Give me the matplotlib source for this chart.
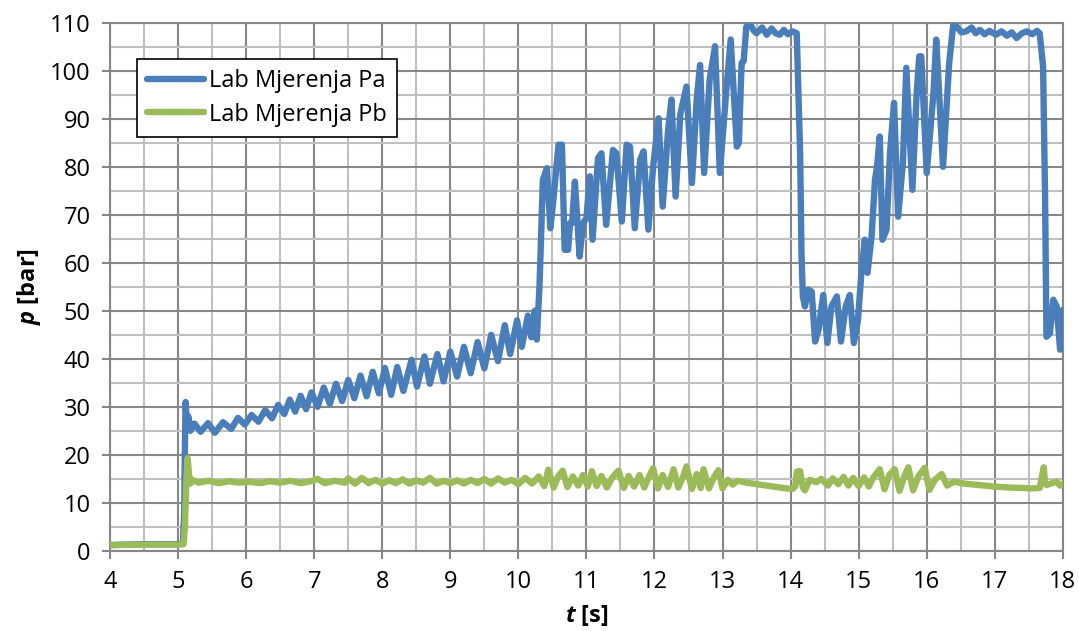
import matplotlib
matplotlib.use("Agg")
import matplotlib.pyplot as plt
from matplotlib.ticker import MultipleLocator

# Pa trace (time [s], pressure [bar])
pa_t = [4.00, 4.50, 5.00, 5.07, 5.09, 5.10, 5.11, 5.13, 5.15, 5.18,
        5.24, 5.33, 5.44, 5.54, 5.66, 5.78, 5.88, 5.98, 6.08, 6.18,
        6.28, 6.38, 6.47, 6.56, 6.64, 6.72, 6.80, 6.88, 6.96, 7.05,
        7.14, 7.23, 7.32, 7.41, 7.50, 7.59, 7.68, 7.77, 7.86, 7.95,
        8.04, 8.13, 8.22, 8.31, 8.43, 8.51, 8.62, 8.70, 8.81, 8.90,
        9.00, 9.10, 9.20, 9.30, 9.40, 9.50, 9.60, 9.70, 9.80, 9.88,
        9.98, 10.05, 10.14, 10.19, 10.24, 10.27, 10.31, 10.36, 10.42, 10.47,
        10.51, 10.59, 10.64, 10.68, 10.73, 10.76, 10.79, 10.83, 10.90, 10.95,
        11.00, 11.05, 11.09, 11.17, 11.22, 11.29, 11.39, 11.44, 11.52, 11.59,
        11.64, 11.71, 11.79, 11.84, 11.91, 11.98, 12.06, 12.12, 12.20, 12.25,
        12.31, 12.38, 12.47, 12.55, 12.62, 12.67, 12.73, 12.81, 12.89, 12.96,
        13.06, 13.12, 13.21, 13.24, 13.28, 13.31, 13.35, 13.40, 13.45, 13.50,
        13.58, 13.65, 13.72, 13.78, 13.84, 13.90, 13.96, 14.03, 14.09, 14.14,
        14.16, 14.18, 14.21, 14.26, 14.31, 14.36, 14.41, 14.48, 14.54, 14.60,
        14.68, 14.74, 14.81, 14.87, 14.93, 14.99, 15.04, 15.09, 15.13, 15.19,
        15.24, 15.27, 15.31, 15.35, 15.41, 15.46, 15.52, 15.58, 15.65, 15.70,
        15.79, 15.85, 15.89, 15.92, 16.00, 16.10, 16.14, 16.24, 16.33, 16.39,
        16.44, 16.51, 16.58, 16.66, 16.72, 16.78, 16.85, 16.92, 17.02, 17.10,
        17.18, 17.25, 17.32, 17.40, 17.47, 17.55, 17.62, 17.66, 17.71, 17.74,
        17.76, 17.81, 17.86, 17.91, 17.96, 18.00]
pa_p = [1.2, 1.4, 1.4, 1.5, 8.0, 22.0, 31.0, 26.0, 28.0, 25.0,
        26.5, 24.8, 26.6, 24.6, 26.8, 25.4, 27.7, 26.3, 28.3, 26.9,
        29.3, 27.6, 30.4, 28.5, 31.5, 29.0, 32.3, 29.5, 33.0, 30.0,
        34.0, 30.6, 34.8, 31.2, 35.6, 31.8, 36.5, 32.2, 37.3, 32.8,
        38.1, 32.5, 38.3, 33.3, 39.8, 34.2, 40.5, 34.8, 41.0, 35.3,
        41.5, 36.3, 42.5, 37.0, 43.5, 38.0, 45.0, 39.5, 47.0, 41.0,
        48.0, 42.5, 49.0, 44.5, 50.0, 44.0, 55.0, 77.3, 79.7, 67.2,
        72.5, 84.6, 84.6, 62.7, 62.7, 68.3, 68.3, 76.9, 61.3, 68.3,
        69.3, 78.0, 64.8, 81.8, 82.8, 67.9, 83.5, 82.8, 68.6, 84.6,
        84.2, 67.2, 81.5, 83.2, 66.9, 80.0, 90.1, 71.7, 87.7, 94.0,
        73.8, 91.0, 96.7, 76.6, 94.0, 101.2, 78.7, 98.1, 105.1, 78.7,
        96.7, 106.5, 84.2, 85.0, 101.6, 102.0, 109.2, 110.0, 108.5, 107.8,
        109.0, 107.5, 108.8, 107.8, 107.5, 108.5, 107.6, 108.2, 107.8, 82.9,
        62.0, 53.0, 50.9, 54.4, 54.0, 43.6, 46.0, 53.3, 43.3, 50.9,
        53.0, 43.6, 50.9, 53.3, 43.3, 48.1, 57.9, 64.8, 57.9, 65.5,
        77.3, 80.0, 86.3, 64.8, 66.9, 82.8, 93.3, 69.6, 80.8, 100.6,
        75.2, 94.6, 103.0, 103.0, 78.7, 95.4, 106.5, 80.0, 101.6, 109.6,
        109.2, 108.0, 108.2, 109.0, 107.8, 108.5, 107.6, 108.3, 107.5, 108.2,
        107.3, 108.0, 106.8, 107.8, 108.2, 107.6, 108.3, 107.8, 100.9, 73.0,
        44.6, 45.3, 52.3, 50.9, 41.9, 50.2]

# Pb trace
pb_t = [4.00, 4.50, 5.00, 5.08, 5.10, 5.12, 5.14, 5.16, 5.18, 5.20,
        5.30, 5.45, 5.60, 5.75, 5.90, 6.05, 6.20, 6.35, 6.50, 6.65,
        6.80, 6.95, 7.05, 7.15, 7.30, 7.45, 7.50, 7.60, 7.70, 7.80,
        7.90, 8.00, 8.10, 8.20, 8.30, 8.40, 8.50, 8.60, 8.70, 8.80,
        8.90, 9.00, 9.10, 9.20, 9.30, 9.40, 9.50, 9.60, 9.70, 9.80,
        9.90, 10.00, 10.10, 10.20, 10.30, 10.38, 10.44, 10.52, 10.58, 10.65,
        10.72, 10.80, 10.88, 10.95, 11.02, 11.08, 11.15, 11.22, 11.30, 11.38,
        11.47, 11.55, 11.62, 11.70, 11.78, 11.85, 11.92, 11.98, 12.05, 12.12,
        12.20, 12.28, 12.35, 12.42, 12.47, 12.55, 12.62, 12.68, 12.72, 12.80,
        12.88, 12.94, 13.00, 13.08, 13.15, 13.22, 13.35, 13.50, 13.65, 13.80,
        13.94, 14.03, 14.07, 14.09, 14.14, 14.18, 14.21, 14.28, 14.38, 14.45,
        14.55, 14.62, 14.70, 14.78, 14.85, 14.92, 15.00, 15.08, 15.15, 15.22,
        15.31, 15.38, 15.45, 15.53, 15.60, 15.67, 15.73, 15.80, 15.88, 15.97,
        16.04, 16.12, 16.22, 16.30, 16.40, 16.55, 16.78, 16.98, 17.20, 17.40,
        17.55, 17.66, 17.70, 17.72, 17.74, 17.76, 17.84, 17.91, 17.96, 18.00]
pb_p = [1.2, 1.3, 1.3, 1.4, 5.0, 14.0, 19.3, 16.0, 14.0, 14.8,
        14.2, 14.6, 14.1, 14.5, 14.2, 14.4, 14.1, 14.5, 14.2, 14.6,
        14.1, 14.5, 15.0, 14.1, 14.6, 14.2, 15.1, 14.0, 15.2, 14.1,
        14.8, 14.0, 14.7, 14.1, 14.9, 14.0, 14.7, 14.2, 15.2, 14.0,
        14.6, 14.1, 14.7, 14.0, 14.8, 14.1, 15.0, 14.0, 15.1, 14.2,
        14.8, 13.9, 15.2, 14.0, 15.5, 13.5, 16.9, 13.2, 15.4, 16.7,
        13.3, 15.5, 13.6, 15.8, 13.4, 16.6, 13.5, 15.6, 13.2, 15.3,
        16.7, 13.1, 15.6, 13.4, 15.8, 13.2, 15.5, 17.2, 13.0, 15.8,
        13.3, 17.0, 13.2, 15.4, 17.6, 12.9, 16.0, 13.1, 17.0, 13.0,
        15.5, 16.8, 13.0, 14.8, 13.8, 14.6, 14.2, 13.9, 13.6, 13.3,
        13.0, 12.9, 13.5, 16.5, 16.6, 13.2, 12.6, 14.8, 14.3, 15.0,
        13.6, 15.1, 13.9, 15.4, 13.6, 15.2, 13.5, 15.3, 13.4, 15.4,
        17.0, 12.8, 15.8, 17.0, 12.5, 15.5, 17.4, 12.6, 15.6, 17.3,
        12.7, 14.8, 16.0, 13.6, 14.4, 14.0, 13.7, 13.4, 13.2, 13.1,
        13.0, 13.1, 16.0, 17.4, 14.0, 13.7, 14.1, 14.4, 13.6, 13.9]

x_ticks = list(range(4, 19))
y_ticks = list(range(0, 111, 10))

plt.rcParams['font.family'] = ['Open Sans', 'DejaVu Sans']
plt.rcParams['mathtext.fontset'] = 'custom'
plt.rcParams['mathtext.it'] = 'Open Sans:italic:bold'

fig = plt.figure(figsize=(10.79, 6.31), dpi=100)
ax = fig.add_axes([0.102, 0.127, 0.883, 0.837])

ax.plot(pa_t, pa_p, color='#4a7ebb', lw=4.6, solid_joinstyle='round',
        solid_capstyle='round', label='Lab Mjerenja Pa', zorder=3)
ax.plot(pb_t, pb_p, color='#9bbb59', lw=4.6, solid_joinstyle='round',
        solid_capstyle='round', label='Lab Mjerenja Pb', zorder=4)

ax.set_xlim(4, 18)
ax.set_ylim(0, 110)
ax.set_xticks(x_ticks)
ax.set_yticks(y_ticks)
ax.xaxis.set_minor_locator(MultipleLocator(0.5))
ax.yaxis.set_minor_locator(MultipleLocator(5))
ax.grid(which='major', color='#878787', lw=1.5, zorder=0)
ax.grid(which='minor', color='#c0c0c0', lw=1.5, zorder=0)
ax.tick_params(which='major', direction='out', length=6, width=1.5,
               color='#878787', labelsize=17, pad=8)
ax.tick_params(which='minor', length=0)
for sp in ax.spines.values():
    sp.set_color('#878787')
    sp.set_linewidth(1.5)

ax.set_xlabel('$t$ [s]', fontsize=17, fontweight='bold', labelpad=6)
ax.set_ylabel('$p$ [bar]', fontsize=17, fontweight='bold', labelpad=5)

leg = ax.legend(loc='upper left', bbox_to_anchor=(0.028, 0.932), fontsize=17,
                frameon=True, fancybox=False, framealpha=1, edgecolor='black',
                handlelength=2.4, borderpad=0.45, labelspacing=0.4,
                handletextpad=0.2, borderaxespad=0)
leg.get_frame().set_linewidth(1.2)

fig.savefig('out.png', dpi=100)
